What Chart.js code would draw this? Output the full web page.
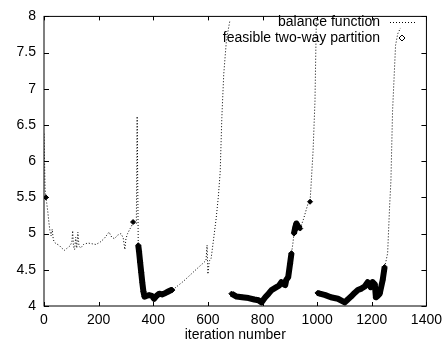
<!DOCTYPE html>
<html>
<head>
<meta charset="utf-8">
<script src="https://cdn.jsdelivr.net/npm/chart.js@4/dist/chart.umd.min.js"></script>
<style>
  body { margin: 0; background: #fff; }
  #chart { display: block; }
</style>
</head>
<body>
<canvas id="chart" width="448" height="345"></canvas>
<script>
// balance function (null = off the top of the plot)
var balanceX = [0, 2, 4, 7, 10, 14, 18, 22, 26, 30, 34, 38, 45, 55, 65, 75, 85, 95, 102, 105,
  108, 112, 116, 120, 124, 128, 134, 145, 160, 175, 190, 205, 220, 238, 248, 258, 270, 282, 290, 296,
  300, 306, 314, 320, 326, 332, 338, 341, 345,
  348, 352, 356, 360, 364, 368, 375, 385, 395, 403, 412, 422, 432, 445, 455, 465, 470,
  490, 510, 530, 550, 570, 585, 593, 597, 600, 605, 612, 620, 630, 638, 645, 651, 658, 668, 680, 683,
  686, 705, 725, 749, 770, 785, 796, 810, 822, 833, 851, 860, 869, 878, 883, 887, 894, 901, 906, 911,
  915, 920, 924, 930, 938, 950, 960, 967, 974, 978, 985, 992, 997, 999,
  1001, 1010, 1030, 1050, 1076, 1101, 1112, 1124, 1137, 1149, 1162, 1174, 1185, 1196, 1203, 1211, 1215, 1222, 1229, 1240, 1247,
  1252, 1258, 1265, 1270, 1276, 1287, 1295, 1305];
var balanceY = [6.38, 6.0, 5.62, 5.5, 5.42, 5.3, 5.15, 5.03, 4.97, 5.06, 4.92, 4.88, 4.86, 4.84, 4.8, 4.77, 4.8, 4.83, 4.88, 5.04,
  4.82, 4.78, 4.95, 4.8, 5.02, 4.83, 4.8, 4.85, 4.87, 4.86, 4.85, 4.88, 4.93, 5.02, 4.95, 4.93, 4.98, 5.0, 4.94, 4.78,
  4.93, 5.0, 5.06, 5.1, 5.16, 5.14, 5.13, 6.62, 4.84,
  4.75, 4.6, 4.46, 4.32, 4.2, 4.13, 4.14, 4.15, 4.14, 4.1, 4.14, 4.17, 4.16, 4.18, 4.2, 4.22, 4.22,
  4.28, 4.34, 4.41, 4.48, 4.55, 4.6, 4.63, 4.84, 4.44, 4.62, 4.66, 4.9, 5.2, 5.5, 5.85, 6.6, 7.2, 7.68, 7.93, null,
  4.17, 4.13, 4.12, 4.11, 4.09, 4.08, 4.05, 4.12, 4.17, 4.22, 4.26, 4.28, 4.33, 4.3, 4.29, 4.36, 4.4, 4.59, 4.73, 4.86,
  5.0, 5.09, 5.14, 5.1, 5.07, 5.2, 5.33, 5.42, 5.44, 5.69, 6.14, 6.83, 7.97, null,
  4.18, 4.17, 4.15, 4.12, 4.1, 4.05, 4.09, 4.13, 4.18, 4.22, 4.24, 4.27, 4.33, 4.26, 4.33, 4.3, 4.12, 4.14, 4.17, 4.36, 4.54,
  4.62, 4.73, 5.36, 5.73, 6.69, 7.6, 7.76, 7.84];

// feasible two-way partition (null = break between runs)
var feasibleX = [7, 8, 326, 327,
  345, 348, 352, 356, 360, 364, 368, 375, 385, 395, 403, 412, 422, 432, 445, 455, 465, 470, 471,
  686, 705, 725, 749, 770, 785, 796, 810, 822, 833, 851, 860, 869, 878, 883, 887, 894, 901, 906, 907,
  915, 920, 924, 930, 938, 939, 974, 975,
  1001, 1010, 1030, 1050, 1076, 1101, 1112, 1124, 1137, 1149, 1162, 1174, 1185, 1196, 1203, 1211, 1215, 1222, 1229, 1240, 1247];
var feasibleY = [5.5, null, 5.16, null,
  4.84, 4.75, 4.6, 4.46, 4.32, 4.2, 4.13, 4.14, 4.15, 4.14, 4.1, 4.14, 4.17, 4.16, 4.18, 4.2, 4.22, 4.22, null,
  4.17, 4.13, 4.12, 4.11, 4.09, 4.08, 4.05, 4.12, 4.17, 4.22, 4.26, 4.28, 4.33, 4.3, 4.29, 4.36, 4.4, 4.59, 4.73, null,
  5.0, 5.09, 5.14, 5.1, 5.07, null, 5.44, null,
  4.18, 4.17, 4.15, 4.12, 4.1, 4.05, 4.09, 4.13, 4.18, 4.22, 4.24, 4.27, 4.33, 4.26, 4.33, 4.3, 4.12, 4.14, 4.17, 4.36, 4.54];

var seriesNames = ['balance function', 'feasible two-way partition'];
var xTitle = 'iteration number';

function toPoints(xs, ys) {
  var pts = [];
  for (var i = 0; i < xs.length; i++) pts.push({ x: xs[i], y: ys[i] });
  return pts;
}

var FONT = '"Liberation Sans", Arial, sans-serif';

// gnuplot style frame: border, ticks pointing inward on all four sides, key inside
var framePlugin = {
  id: 'frame',
  afterDraw: function(chart) {
    var ctx = chart.ctx, a = chart.chartArea;
    var xs = chart.scales.x, ys = chart.scales.y;
    ctx.save();
    ctx.strokeStyle = '#000';
    ctx.lineWidth = 1;
    ctx.setLineDash([]);
    ctx.strokeRect(a.left, a.top, a.right - a.left, a.bottom - a.top);
    ctx.beginPath();
    xs.ticks.forEach(function(t) {
      var px = Math.round(xs.getPixelForValue(t.value)) + 0.5;
      ctx.moveTo(px, a.bottom); ctx.lineTo(px, a.bottom - 4);
      ctx.moveTo(px, a.top); ctx.lineTo(px, a.top + 4);
    });
    ys.ticks.forEach(function(t) {
      var py = Math.round(ys.getPixelForValue(t.value)) + 0.5;
      ctx.moveTo(a.left, py); ctx.lineTo(a.left + 5, py);
      ctx.moveTo(a.right, py); ctx.lineTo(a.right - 5, py);
    });
    ctx.stroke();

    // key
    ctx.fillStyle = '#000';
    ctx.font = '14px ' + FONT;
    ctx.textAlign = 'right';
    ctx.textBaseline = 'middle';
    var kx = 380, ky1 = 22, ky2 = 38;
    ctx.fillText(seriesNames[0], kx, ky1);
    ctx.fillText(seriesNames[1], kx, ky2);
    ctx.beginPath();
    ctx.setLineDash([1, 2]);
    ctx.moveTo(390, ky1 + 0.5); ctx.lineTo(415, ky1 + 0.5);
    ctx.stroke();
    ctx.setLineDash([]);
    ctx.beginPath();
    ctx.moveTo(402, ky2 - 3); ctx.lineTo(405, ky2); ctx.lineTo(402, ky2 + 3); ctx.lineTo(399, ky2);
    ctx.closePath();
    ctx.fillStyle = '#fff';
    ctx.fill();
    ctx.stroke();
    ctx.restore();
  }
};

var ctx = document.getElementById('chart').getContext('2d');
var chart = new Chart(ctx, {
  type: 'line',
  data: {
    datasets: [{
      label: seriesNames[0],
      data: toPoints(balanceX, balanceY),
      borderColor: '#000',
      borderWidth: 1,
      borderDash: [1, 2],
      pointRadius: 0,
      spanGaps: false,
      tension: 0,
      order: 1
    }, {
      label: seriesNames[1],
      data: toPoints(feasibleX, feasibleY),
      borderColor: '#000',
      backgroundColor: '#000',
      borderWidth: 6,
      borderCapStyle: 'butt',
      borderJoinStyle: 'round',
      pointStyle: 'rectRot',
      pointRadius: 2.5,
      pointBorderWidth: 1,
      pointBackgroundColor: '#000',
      pointBorderColor: '#000',
      spanGaps: false,
      tension: 0,
      order: 0
    }]
  },
  options: {
    responsive: false,
    animation: false,
    layout: { padding: { left: 0, right: 19, top: 15, bottom: 0 } },
    plugins: {
      legend: { display: false },
      tooltip: { enabled: false }
    },
    scales: {
      x: {
        type: 'linear',
        min: 0,
        max: 1400,
        grid: { display: false, drawTicks: false },
        border: { display: false },
        ticks: {
          stepSize: 200, color: '#000', padding: 6, maxRotation: 0, font: { family: FONT, size: 14 },
          callback: function(v) { return String(v); }
        },
        title: { display: true, text: xTitle, color: '#000', padding: { top: 0, bottom: 1 }, font: { family: FONT, size: 14 } },
        afterFit: function(scale) { scale.height = 39; }
      },
      y: {
        type: 'linear',
        min: 4,
        max: 8,
        grid: { display: false, drawTicks: false },
        border: { display: false },
        ticks: {
          stepSize: 0.5, color: '#000', padding: 8, font: { family: FONT, size: 14 },
          callback: function(v) { return String(v); }
        },
        afterFit: function(scale) { scale.width = 44; }
      }
    }
  },
  plugins: [framePlugin]
});
</script>
</body>
</html>
